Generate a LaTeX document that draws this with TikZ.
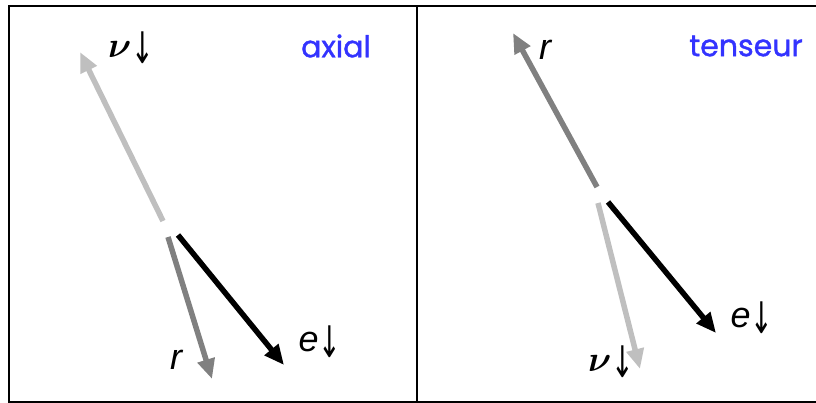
\RequirePackage{fix-cm}
\documentclass[tikz,border=0pt]{standalone}
\usepackage{amsmath}
\usepackage{fontspec}
\setsansfont{Liberation Sans}
\newfontfamily\comicfont{Poppins}[FakeBold=1.2]
\newfontfamily\arrowfont{DejaVu Sans}
\newcommand{\spindown}{\raisebox{-6pt}{\scalebox{0.9}[1.45]{\arrowfont\fontsize{30}{34}\selectfont ↓}}}
\usetikzlibrary{arrows.meta}
\definecolor{labelblue}{RGB}{51,51,255}

\begin{document}
\begin{tikzpicture}[
  x=1pt, y=-1pt,
  every node/.style={inner sep=0pt, font=\fontsize{36}{40}\selectfont},
  boxline/.style={line width=2pt},
  vecnu/.style={draw=black!25, line width=5.5pt, -{Triangle[length=20pt,width=17pt]}},
  vecr/.style={draw=black!50, line width=5.5pt, -{Triangle[length=20pt,width=17pt]}},
  vece/.style={draw=black, line width=5.5pt, -{Triangle[length=20pt,width=17pt]}},
  titlelab/.style={text=labelblue, font=\comicfont\fontsize{30}{34}\selectfont},
  veclab/.style={font=\sffamily\itshape\fontsize{36}{40}\selectfont}
]
\useasboundingbox (0,0) rectangle (816,403);

\draw[boxline] (817,6) -- (9,6) -- (9,402) -- (817,402);
\draw[boxline] (417,6) -- (417,402);

\coordinate (a-nu0) at (163,221);
\coordinate (a-nu1) at (80,52);
\coordinate (a-r0)  at (168,237);
\coordinate (a-r1)  at (212,379);
\coordinate (a-e0)  at (178,235);
\coordinate (a-e1)  at (284,365);

\draw[vecnu] (a-nu0) -- (a-nu1);
\draw[vecr]  (a-r0) -- (a-r1);
\draw[vece]  (a-e0) -- (a-e1);

\node (a-nulab) at (131,48) {$\boldsymbol{\nu}$\spindown};
\node[titlelab] (a-title) at (336,46) {axial};
\node[veclab] (a-rlab) at (176,360) {r};
\node[veclab] (a-elab) at (320,342) {e\spindown};

\coordinate (t-r0)  at (597,187);
\coordinate (t-r1)  at (513,33);
\coordinate (t-nu0) at (598,203);
\coordinate (t-nu1) at (640,369);
\coordinate (t-e0)  at (608,202);
\coordinate (t-e1)  at (716,333);

\draw[vecr]  (t-r0) -- (t-r1);
\draw[vecnu] (t-nu0) -- (t-nu1);
\draw[vece]  (t-e0) -- (t-e1);

\node[veclab] (t-rlab) at (545,50) {r};
\node[titlelab] (t-title) at (746,46) {tenseur};
\node[veclab] (t-elab) at (752,318) {e\spindown};
\node (t-nulab) at (611,362) {$\boldsymbol{\nu}$\spindown};

\end{tikzpicture}
\end{document}
